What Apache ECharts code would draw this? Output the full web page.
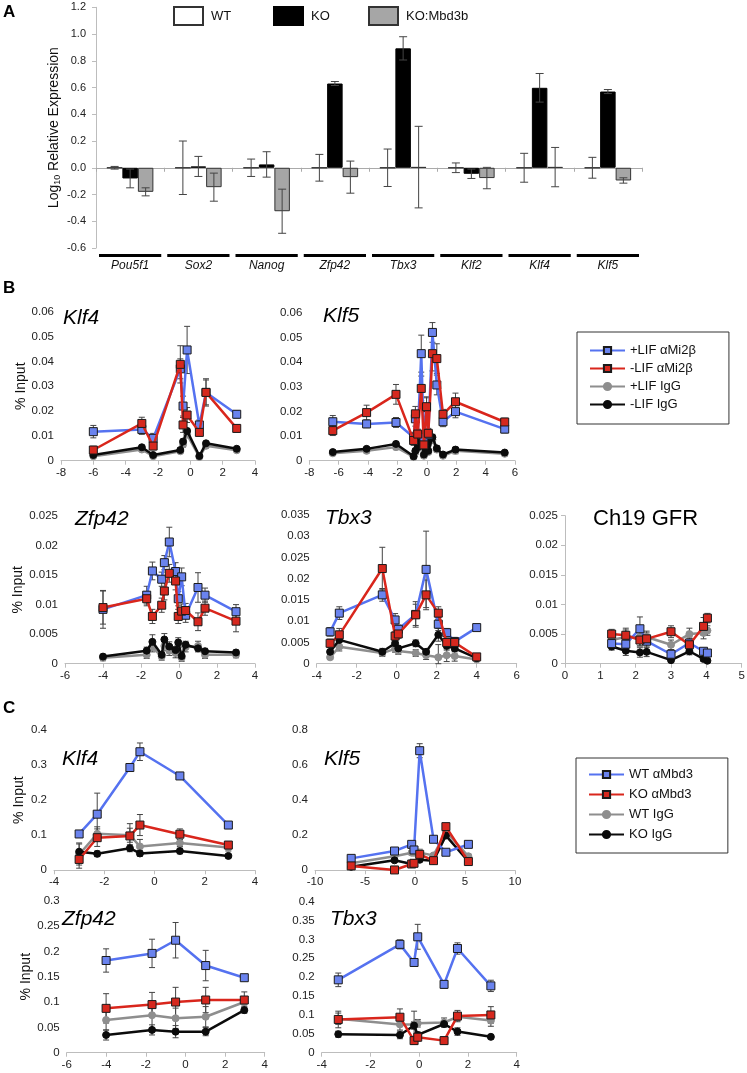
<!DOCTYPE html>
<html>
<head>
<meta charset="utf-8">
<script src="https://cdn.jsdelivr.net/npm/echarts@6/dist/echarts.min.js"></script>
<style>
  html, body { margin: 0; background: #fff; }
  #chart { width: 747px; height: 1073px; }
</style>
</head>
<body>
<div id="chart"></div>
<script>
// ---- panel A: log10 relative expression ----
const genes = ['Pou5f1', 'Sox2', 'Nanog', 'Zfp42', 'Tbx3', 'Klf2', 'Klf4', 'Klf5'];
const wtExpr = [0, 0, 0, 0, 0, 0, 0, 0];
const wtErr = [0.01, 0.2, 0.065, 0.1, 0.14, 0.036, 0.108, 0.078];
const koExpr = [-0.08, 0.01, 0.025, 0.63, 0.893, -0.045, 0.598, 0.57];
const koErr = [0.07, 0.075, 0.095, 0.015, 0.087, 0.035, 0.107, 0.015];
const rescExpr = [-0.18, -0.145, -0.325, -0.07, 0.005, -0.077, 0.005, -0.095];
const rescErr = [0.03, 0.105, 0.165, 0.12, 0.305, 0.08, 0.147, 0.02];

// ---- panel B: Mi2b ChIP (rows: +LIF aMi2b, -LIF aMi2b, +LIF IgG, -LIF IgG) ----
const bNames = ['+LIF αMi2β', '-LIF αMi2β', '+LIF IgG', '-LIF IgG'];

const bKlf4X = [-6, -3, -2.3, -0.62, -0.45, -0.2, 0.56, 0.97, 2.87];
const bKlf4Y = [
  [0.0117, 0.0126, 0.009, 0.037, 0.022, 0.0446, 0.0144, 0.0275, 0.0187],
  [0.0043, 0.015, 0.0059, 0.0388, 0.0144, 0.0184, 0.0114, 0.0275, 0.013],
  [0.0018, 0.0045, 0.0018, 0.0038, 0.0065, 0.0105, 0.0015, 0.006, 0.0042],
  [0.0023, 0.0054, 0.0023, 0.0043, 0.0077, 0.012, 0.0019, 0.007, 0.0048],
];
const bKlf4E = [
  [0.0025, 0.002, 0.002, 0.004, 0.004, 0.0095, 0.002, 0.005, 0.0015],
  [0.0015, 0.0025, 0.0015, 0.0075, 0.003, 0.003, 0.0015, 0.0055, 0.0015],
  [0.0005, 0.0008, 0.0005, 0.0008, 0.001, 0.001, 0.0005, 0.0008, 0.0005],
  [0.0005, 0.0008, 0.0005, 0.0008, 0.001, 0.001, 0.0005, 0.0008, 0.0005],
];

const bKlf5X = [-6.4, -4.1, -2.1, -0.9, -0.78, -0.62, -0.38, -0.2, -0.02, 0.1, 0.38, 0.68, 1.1, 1.95, 5.3];
const bKlf5Y = [
  [0.0158, 0.0149, 0.0155, 0.0095, 0.017, 0.0105, 0.0434, 0.0095, 0.0215, 0.0105, 0.052, 0.0307, 0.0158, 0.0199, 0.0128],
  [0.0122, 0.0195, 0.0269, 0.0082, 0.019, 0.0108, 0.0293, 0.0064, 0.0219, 0.0111, 0.0434, 0.0414, 0.0188, 0.0239, 0.0157],
  [0.003, 0.004, 0.0055, 0.0015, 0.0035, 0.005, 0.007, 0.002, 0.0065, 0.0035, 0.0085, 0.0045, 0.002, 0.004, 0.0028],
  [0.0035, 0.0048, 0.0068, 0.0018, 0.004, 0.0055, 0.008, 0.0025, 0.0075, 0.004, 0.0095, 0.005, 0.0025, 0.0045, 0.0033],
];
const bKlf5E = [
  [0.0025, 0.0015, 0.002, 0.002, 0.003, 0.002, 0.0075, 0.002, 0.004, 0.002, 0.004, 0.004, 0.002, 0.0025, 0.0015],
  [0.002, 0.003, 0.004, 0.002, 0.003, 0.002, 0.005, 0.002, 0.004, 0.002, 0.007, 0.006, 0.002, 0.0035, 0.0015],
  [0.0008, 0.0008, 0.001, 0.0008, 0.001, 0.001, 0.0015, 0.0008, 0.001, 0.0008, 0.0015, 0.001, 0.0008, 0.0012, 0.0008],
  [0.0008, 0.0008, 0.001, 0.0008, 0.001, 0.001, 0.0012, 0.0008, 0.001, 0.0008, 0.0012, 0.001, 0.0008, 0.001, 0.0008],
];

const bZfp42X = [-4, -1.7, -1.4, -0.91, -0.77, -0.51, -0.18, -0.04, 0.14, 0.35, 1.0, 1.37, 3.0];
const bZfp42Y = [
  [0.0092, 0.0116, 0.0157, 0.0143, 0.0171, 0.0206, 0.0156, 0.011, 0.0147, 0.0082, 0.0129, 0.0116, 0.0088],
  [0.0095, 0.011, 0.008, 0.0099, 0.0123, 0.0153, 0.014, 0.008, 0.0089, 0.009, 0.0071, 0.0094, 0.0072],
  [0.001, 0.0015, 0.0028, 0.0012, 0.003, 0.0022, 0.0018, 0.003, 0.001, 0.0028, 0.003, 0.0015, 0.0015],
  [0.0012, 0.0022, 0.0037, 0.0015, 0.0041, 0.0029, 0.0023, 0.0036, 0.0013, 0.0032, 0.0026, 0.0021, 0.0019],
];
const bZfp42E = [
  [0.0032, 0.0015, 0.0015, 0.0012, 0.0012, 0.0025, 0.0015, 0.0012, 0.0015, 0.0012, 0.0025, 0.0012, 0.0012],
  [0.0028, 0.0012, 0.0012, 0.0012, 0.0015, 0.0015, 0.0015, 0.0012, 0.0012, 0.0012, 0.0015, 0.0012, 0.0018],
  [0.0005, 0.0006, 0.0008, 0.0006, 0.0008, 0.0008, 0.0008, 0.0008, 0.0006, 0.0008, 0.0008, 0.0006, 0.0005],
  [0.0004, 0.0006, 0.0012, 0.0005, 0.001, 0.0008, 0.0006, 0.0008, 0.0005, 0.0006, 0.0006, 0.0005, 0.0004],
];

const bTbx3X = [-3.33, -2.87, -0.72, -0.08, 0.08, 0.95, 1.47, 2.08, 2.5, 2.9, 4.0];
const bTbx3Y = [
  [0.0075, 0.0119, 0.0162, 0.0103, 0.0081, 0.0116, 0.0222, 0.0093, 0.0073, 0.0052, 0.0085],
  [0.0048, 0.0068, 0.0224, 0.0065, 0.007, 0.0115, 0.0162, 0.0119, 0.005, 0.005, 0.0016],
  [0.0015, 0.004, 0.0025, 0.0035, 0.003, 0.0025, 0.002, 0.0015, 0.002, 0.0018, 0.001],
  [0.0028, 0.0056, 0.0028, 0.0048, 0.0036, 0.0048, 0.0028, 0.0068, 0.0042, 0.0036, 0.0013],
];
const bTbx3E = [
  [0.001, 0.0015, 0.0015, 0.0015, 0.001, 0.003, 0.009, 0.0015, 0.001, 0.001, 0.0005],
  [0.001, 0.0015, 0.005, 0.001, 0.001, 0.0025, 0.0035, 0.0015, 0.001, 0.001, 0.0005],
  [0.0005, 0.001, 0.0008, 0.0008, 0.0008, 0.0008, 0.001, 0.003, 0.0015, 0.0012, 0.0004],
  [0.0005, 0.0012, 0.0008, 0.0008, 0.0006, 0.0008, 0.0006, 0.0015, 0.001, 0.0008, 0.0004],
];

const bCh19X = [1.32, 1.72, 2.12, 2.31, 3.0, 3.52, 3.92, 4.03];
const bCh19Y = [
  [0.0034, 0.0033, 0.0059, 0.0038, 0.0016, 0.0035, 0.0021, 0.0018],
  [0.005, 0.0048, 0.004, 0.0042, 0.0054, 0.0032, 0.0063, 0.0077],
  [0.004, 0.0045, 0.0045, 0.0045, 0.0032, 0.005, 0.0052, 0.0056],
  [0.0029, 0.0022, 0.0019, 0.002, 0.0006, 0.0021, 0.0008, 0.0005],
];
const bCh19E = [
  [0.0008, 0.001, 0.002, 0.001, 0.0005, 0.001, 0.0005, 0.0005],
  [0.0008, 0.0012, 0.001, 0.001, 0.001, 0.001, 0.0015, 0.0008],
  [0.0008, 0.0012, 0.0015, 0.001, 0.0008, 0.001, 0.001, 0.0008],
  [0.0006, 0.0008, 0.0008, 0.0008, 0.0004, 0.0006, 0.0004, 0.0003],
];

// ---- panel C: Mbd3 ChIP (rows: WT aMbd3, KO aMbd3, WT IgG, KO IgG) ----
const cNames = ['WT αMbd3', 'KO αMbd3', 'WT IgG', 'KO IgG'];

const cKlf4X = [-3.0, -2.28, -0.98, -0.58, 1.01, 2.94];
const cKlf4Y = [
  [0.1036, 0.16, 0.293, 0.338, 0.269, 0.129],
  [0.031, 0.093, 0.098, 0.129, 0.103, 0.072],
  [0.045, 0.104, 0.1, 0.068, 0.078, 0.065],
  [0.053, 0.047, 0.063, 0.048, 0.055, 0.041],
];
const cKlf4E = [
  [0.005, 0.06, 0.008, 0.025, 0.005, 0.005],
  [0.025, 0.025, 0.035, 0.03, 0.015, 0.008],
  [0.03, 0.02, 0.02, 0.02, 0.01, 0.01],
  [0.025, 0.008, 0.01, 0.008, 0.008, 0.005],
];

const cKlf5X = [-6.38, -2.05, -0.33, -0.1, 0.47, 1.85, 3.09, 5.34];
const cKlf5Y = [
  [0.068, 0.11, 0.148, 0.116, 0.682, 0.177, 0.103, 0.148],
  [0.025, 0.002, 0.036, 0.04, 0.091, 0.055, 0.249, 0.05],
  [0.04, 0.08, 0.1, 0.1, 0.1, 0.085, 0.22, 0.08],
  [0.02, 0.057, 0.036, 0.04, 0.06, 0.055, 0.198, 0.05],
];
const cKlf5E = [
  [0.008, 0.01, 0.01, 0.01, 0.04, 0.01, 0.01, 0.01],
  [0.008, 0.005, 0.01, 0.01, 0.015, 0.01, 0.015, 0.01],
  [0.01, 0.01, 0.012, 0.012, 0.02, 0.01, 0.015, 0.012],
  [0.008, 0.008, 0.01, 0.01, 0.01, 0.008, 0.012, 0.008],
];

const cZfp42X = [-4.01, -1.69, -0.5, 1.02, 2.97];
const cZfp42Y = [
  [0.182, 0.196, 0.222, 0.172, 0.148],
  [0.0875, 0.095, 0.1, 0.104, 0.104],
  [0.0645, 0.074, 0.068, 0.071, 0.1],
  [0.035, 0.045, 0.0415, 0.0415, 0.084],
];
const cZfp42E = [
  [0.023, 0.028, 0.035, 0.03, 0.005],
  [0.029, 0.024, 0.029, 0.025, 0.016],
  [0.02, 0.025, 0.02, 0.02, 0.008],
  [0.01, 0.01, 0.012, 0.008, 0.006],
];

const cTbx3X = [-3.32, -0.79, -0.21, -0.06, 1.02, 1.57, 2.94];
const cTbx3Y = [
  [0.193, 0.287, 0.239, 0.307, 0.181, 0.276, 0.177],
  [0.088, 0.094, 0.032, 0.041, 0.032, 0.097, 0.1],
  [0.09, 0.075, 0.075, 0.078, 0.08, 0.095, 0.085],
  [0.049, 0.047, 0.072, 0.047, 0.076, 0.056, 0.042],
];
const cTbx3E = [
  [0.018, 0.012, 0.008, 0.033, 0.01, 0.015, 0.015],
  [0.022, 0.022, 0.01, 0.01, 0.01, 0.015, 0.022],
  [0.015, 0.015, 0.035, 0.01, 0.012, 0.01, 0.015],
  [0.008, 0.01, 0.01, 0.008, 0.008, 0.01, 0.005],
];

const FONT = '"Liberation Sans", Arial, Helvetica, sans-serif';
const AXIS_GRAY = '#bdbdbd';
const ERR_COLOR = '#444';

// blue, red, gray, black
const styles = [
  { line: '#5572f0', fill: '#6a83ee', symbol: 'rect', size: 8, border: '#1a1a1a' },
  { line: '#d9261c', fill: '#d6281e', symbol: 'rect', size: 8, border: '#1a1a1a' },
  { line: '#8e8e8e', fill: '#8e8e8e', symbol: 'circle', size: 7, border: '#8e8e8e' },
  { line: '#0b0b0b', fill: '#0b0b0b', symbol: 'circle', size: 7, border: '#0b0b0b' },
];
const drawOrder = [2, 3, 0, 1];

// layout of the line panels: grid [left, top, right, bottom], x [min,max,step], y [min,max,step]
const panels = [
  { g: [61, 311.7, 255, 460.7], xr: [-8, 4, 2], yr: [0, 0.06, 0.01], xs: bKlf4X, ys: bKlf4Y, es: bKlf4E, names: bNames, yName: 33, title: 'Klf4', tp: [63, 308] },
  { g: [309.3, 312.7, 515, 460.7], xr: [-8, 6, 2], yr: [0, 0.06, 0.01], xs: bKlf5X, ys: bKlf5Y, es: bKlf5E, names: bNames, title: 'Klf5', tp: [323, 306] },
  { g: [65, 516, 255, 663.7], xr: [-6, 4, 2], yr: [0, 0.025, 0.005], xs: bZfp42X, ys: bZfp42Y, es: bZfp42E, names: bNames, yName: 37, title: 'Zfp42', tp: [75, 509] },
  { g: [316.7, 515, 516.7, 663.7], xr: [-4, 6, 2], yr: [0, 0.035, 0.005], xs: bTbx3X, ys: bTbx3Y, es: bTbx3E, names: bNames, title: 'Tbx3', tp: [325, 508] },
  { g: [565, 515.7, 741.7, 663.7], xr: [0, 5, 1], yr: [0, 0.025, 0.005], xs: bCh19X, ys: bCh19Y, es: bCh19E, names: bNames, title: 'Ch19 GFR', tp: [593, 508], upright: true, yLine: true },
  { g: [54, 730, 255, 870.3], xr: [-4, 4, 2], yr: [0, 0.4, 0.1], xs: cKlf4X, ys: cKlf4Y, es: cKlf4E, names: cNames, yName: 28, title: 'Klf4', tp: [62, 749] },
  { g: [315, 730, 515, 870.3], xr: [-10, 10, 5], yr: [0, 0.8, 0.2], xs: cKlf5X, ys: cKlf5Y, es: cKlf5E, names: cNames, title: 'Klf5', tp: [324, 749] },
  { g: [66.7, 900.7, 264.7, 1052.7], xr: [-6, 4, 2], yr: [0, 0.3, 0.05], xs: cZfp42X, ys: cZfp42Y, es: cZfp42E, names: cNames, yName: 33, title: 'Zfp42', tp: [62, 909] },
  { g: [321.7, 901.7, 516.7, 1052.7], xr: [-4, 4, 2], yr: [0, 0.4, 0.05], xs: cTbx3X, ys: cTbx3Y, es: cTbx3E, names: cNames, title: 'Tbx3', tp: [330, 909] },
];

const chart = echarts.init(document.getElementById('chart'), null, { renderer: 'canvas' });

const rect = (g) => ({ left: g[0], top: g[1], width: g[2] - g[0], height: g[3] - g[1] });

const axisLabel = { color: '#222', fontSize: 11.5, fontFamily: FONT };

function valueAxis(gridIndex, r, extra) {
  return Object.assign({
    type: 'value',
    gridIndex,
    min: r[0],
    max: r[1],
    interval: r[2],
    axisLine: { show: true, onZero: false, lineStyle: { color: AXIS_GRAY } },
    axisTick: { show: true, length: 4, lineStyle: { color: AXIS_GRAY } },
    splitLine: { show: false },
    axisLabel: Object.assign({ margin: 7 }, axisLabel),
  }, extra || {});
}

function errLines(x, yTop, yBot, cap) {
  const st = { stroke: ERR_COLOR, lineWidth: 1 };
  return [
    { type: 'line', shape: { x1: x, y1: yTop, x2: x, y2: yBot }, style: st },
    { type: 'line', shape: { x1: x - cap, y1: yTop, x2: x + cap, y2: yTop }, style: st },
    { type: 'line', shape: { x1: x - cap, y1: yBot, x2: x + cap, y2: yBot }, style: st },
  ];
}

const grids = [rect([96, 7.3, 642, 248])];
const xAxes = [
  {
    type: 'category', gridIndex: 0, data: genes,
    axisLine: { onZero: true, lineStyle: { color: '#aaa' } },
    axisTick: { show: true, length: 4, lineStyle: { color: '#aaa' } },
    axisLabel: { show: false },
  },
  {
    type: 'category', gridIndex: 0, data: genes, position: 'bottom',
    axisLine: { show: false, onZero: false }, axisTick: { show: false },
    axisLabel: { margin: 12, fontStyle: 'italic', fontSize: 12, color: '#111', fontFamily: FONT },
  },
];
const yAxes = [
  valueAxis(0, [-0.6, 1.2, 0.2], {
    axisLabel: Object.assign({ margin: 10, formatter: (v) => v.toFixed(1) }, axisLabel, { fontSize: 11 }),
    name: '{a|Log}{s|10}{a| Relative Expression}',
    nameLocation: 'middle',
    nameGap: 34,
    nameMoveOverlap: false,
    nameTextStyle: {
      rich: {
        a: { fontSize: 14, fontFamily: FONT, color: '#111' },
        s: { fontSize: 9, fontFamily: FONT, color: '#111', verticalAlign: 'bottom', padding: [6, 0, 0, 0] },
      },
    },
  }),
];

const BAR_W = 15.5;
const series = [
  { type: 'bar', name: 'WT', xAxisIndex: 0, yAxisIndex: 0, data: wtExpr, barWidth: BAR_W, barGap: '0%',
    itemStyle: { color: '#fff', borderColor: '#333', borderWidth: 1 } },
  { type: 'bar', name: 'KO', xAxisIndex: 0, yAxisIndex: 0, data: koExpr, barWidth: BAR_W, barGap: '0%',
    itemStyle: { color: '#000', borderColor: '#000', borderWidth: 1 } },
  { type: 'bar', name: 'KO:Mbd3b', xAxisIndex: 0, yAxisIndex: 0, data: rescExpr, barWidth: BAR_W, barGap: '0%',
    itemStyle: { color: '#a6a6a6', borderColor: '#333', borderWidth: 1 } },
];

// error bars of panel A
const barErrData = [];
[[wtExpr, wtErr], [koExpr, koErr], [rescExpr, rescErr]].forEach(([vals, errs], slot) => {
  vals.forEach((v, i) => barErrData.push([i, v, errs[i], slot - 1]));
});
series.push({
  type: 'custom', xAxisIndex: 0, yAxisIndex: 0, z: 5, silent: true,
  data: barErrData,
  renderItem: (params, api) => {
    const i = api.value(0), v = api.value(1), e = api.value(2), slot = api.value(3);
    const x = api.coord([i, v])[0] + slot * BAR_W;
    const yTop = api.coord([i, v + e])[1];
    const yBot = api.coord([i, v - e])[1];
    return { type: 'group', children: errLines(x, yTop, yBot, 4) };
  },
});
// thick bars above the gene names
series.push({
  type: 'custom', xAxisIndex: 0, yAxisIndex: 0, silent: true,
  data: genes.map((g, i) => [i, 0]),
  renderItem: (params, api) => {
    const cs = params.coordSys;
    const c = api.coord([api.value(0), 0]);
    const w = api.size([1, 0])[0];
    return {
      type: 'rect',
      shape: { x: c[0] - w / 2 + 3, y: cs.y + cs.height + 6, width: w - 6, height: 3 },
      style: { fill: '#000' },
    };
  },
});

const graphics = [
  { type: 'text', left: 3, top: 4, style: { text: 'A', font: 'bold 17px ' + FONT, fill: '#000' } },
  { type: 'text', left: 3, top: 280, style: { text: 'B', font: 'bold 17px ' + FONT, fill: '#000' } },
  { type: 'text', left: 3, top: 700, style: { text: 'C', font: 'bold 17px ' + FONT, fill: '#000' } },
];

panels.forEach((p, pi) => {
  const gi = pi + 1;      // grid / yAxis index
  const xi = pi + 2;      // xAxis index (two category axes come first)
  grids.push(rect(p.g));
  xAxes.push(valueAxis(gi, p.xr, { axisLabel: Object.assign({ margin: 6 }, axisLabel) }));
  const yExtra = {
    axisLine: { show: !!p.yLine, onZero: false, lineStyle: { color: AXIS_GRAY } },
    axisTick: { show: !!p.yLine, length: 4, lineStyle: { color: AXIS_GRAY } },
  };
  if (p.yName) {
    Object.assign(yExtra, {
      name: '% Input', nameLocation: 'middle', nameGap: p.yName,
      nameTextStyle: { fontSize: 14, fontFamily: FONT, color: '#111' },
    });
  }
  yAxes.push(valueAxis(gi, p.yr, yExtra));

  const errData = [];
  drawOrder.forEach((k) => {
    p.xs.forEach((x, j) => errData.push([x, p.ys[k][j], p.es[k][j]]));
  });
  series.push({
    type: 'custom', xAxisIndex: xi, yAxisIndex: gi, z: 2, silent: true,
    data: errData,
    renderItem: (params, api) => {
      const x = api.value(0), y = api.value(1), e = api.value(2);
      const top = api.coord([x, y + e]);
      const bot = api.coord([x, Math.max(y - e, 0)]);
      return { type: 'group', children: errLines(top[0], top[1], bot[1], 3) };
    },
  });

  drawOrder.forEach((k, oi) => {
    const st = styles[k];
    series.push({
      type: 'line',
      name: p.names[k],
      xAxisIndex: xi,
      yAxisIndex: gi,
      data: p.xs.map((x, j) => [x, p.ys[k][j]]),
      symbol: st.symbol,
      symbolSize: st.size,
      showSymbol: true,
      z: 3 + oi,
      lineStyle: { color: st.line, width: 2.5 },
      itemStyle: { color: st.fill, borderColor: st.border, borderWidth: 1 },
    });
  });

  graphics.push({
    type: 'text', left: p.tp[0], top: p.tp[1],
    style: {
      text: p.title,
      font: (p.upright ? '' : 'italic ') + (p.upright ? 22 : 21) + 'px ' + FONT,
      fill: '#000',
    },
  });
});

const legendText = { fontSize: 13, fontFamily: FONT, color: '#111' };
const legends = [
  { data: ['WT'], left: 173, top: 6 },
  { data: ['KO'], left: 273, top: 6 },
  { data: ['KO:Mbd3b'], left: 368, top: 6 },
].map((l) => Object.assign({
  orient: 'horizontal', itemWidth: 29, itemHeight: 18, icon: 'rect', padding: 0,
  textStyle: Object.assign({ padding: [0, 0, 0, 3] }, legendText),
  selectedMode: false,
}, l));

legends.push({
  data: bNames, orient: 'vertical', left: 577, top: 332,
  itemWidth: 35, itemHeight: 9, itemGap: 5,
  padding: [12, 33, 13, 12],
  borderColor: '#333', borderWidth: 1,
  textStyle: legendText, selectedMode: false,
});
legends.push({
  data: cNames, orient: 'vertical', left: 576, top: 758,
  itemWidth: 35, itemHeight: 9, itemGap: 7,
  padding: [10, 35, 12, 12],
  borderColor: '#333', borderWidth: 1,
  textStyle: legendText, selectedMode: false,
});

chart.setOption({
  animation: false,
  backgroundColor: '#fff',
  textStyle: { fontFamily: FONT },
  grid: grids.map((g) => Object.assign({ outerBoundsMode: 'none' }, g)),
  xAxis: xAxes,
  yAxis: yAxes,
  legend: legends,
  series,
  graphic: { elements: graphics },
});
</script>
</body>
</html>
